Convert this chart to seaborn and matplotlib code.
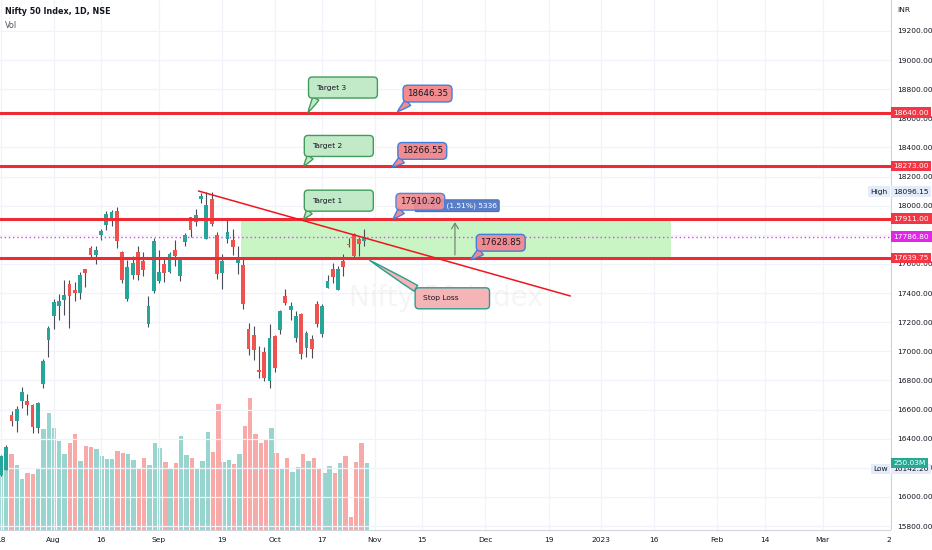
import matplotlib
matplotlib.use("Agg")
import matplotlib.pyplot as plt
import matplotlib.transforms as mtransforms
from matplotlib import font_manager
from matplotlib.patches import Rectangle
from matplotlib.ticker import FormatStrFormatter
import numpy as np
import pandas as pd
import seaborn as sns

# Nifty 50 daily candles, 18 Jul - 28 Oct 2022
opens = [16151, 16187, 16562, 16523, 16661, 16662, 16632, 16475, 16774, 17079,
         17243, 17310, 17349, 17463, 17423, 17401, 17566, 17711, 17659, 17797,
         17868, 17898, 17966, 17682, 17357, 17525, 17679, 17619, 17188, 17414,
         17485, 17598, 17546, 17695, 17519, 17748, 17923, 17890, 18045, 17771,
         18046, 17796, 17540, 17770, 17766, 17609, 17593, 17156, 17110, 16870,
         16993, 16799, 17102, 17147, 17379, 17287, 17094, 17257, 17025, 17087,
         17322, 17122, 17438, 17568, 17423, 17622, 17736, 17808, 17771, 17756]
highs = [16287, 16359, 16588, 16626, 16753, 16706, 16636, 16653, 16948, 17172,
         17356, 17391, 17490, 17491, 17474, 17548, 17566, 17720, 17724, 17839,
         17965, 17969, 17992, 17690, 17625, 17655, 17726, 17685, 17380, 17778,
         17695, 17643, 17683, 17764, 17650, 17810, 17925, 17980, 18089, 18091,
         18096.15, 17820, 17667, 17919, 17838, 17722, 17642, 17196, 17176, 17037,
         17027, 17188, 17114, 17287, 17428, 17337, 17280, 17261, 17142, 17112,
         17348, 17328, 17527, 17607, 17584, 17670, 17777, 17811, 17783, 17838]
lows = [16142.2, 16187, 16490, 16448, 16611, 16564, 16439, 16438, 16746, 16960,
        17154, 17215, 17250, 17161, 17348, 17359, 17442, 17631, 17597, 17765,
        17835, 17861, 17710, 17467, 17345, 17499, 17488, 17519, 17166, 17401,
        17468, 17476, 17540, 17587, 17484, 17726, 17786, 17864, 18022, 17771,
        17861, 17497, 17429, 17744, 17663, 17532, 17291, 16978, 16942, 16820,
        16794, 16747, 16855, 17117, 17315, 17216, 17064, 16950, 16960, 16956,
        17165, 17098, 17434, 17472, 17421, 17520, 17717, 17637, 17654, 17723]
closes = [16278, 16340, 16521, 16605, 16719, 16631, 16483, 16642, 16930, 17158,
          17340, 17345, 17388, 17382, 17397, 17525, 17535, 17659, 17698, 17825,
          17944, 17956, 17758, 17491, 17577, 17605, 17522, 17559, 17313, 17759,
          17542, 17539, 17665, 17655, 17624, 17798, 17833, 17936, 18070, 18003,
          17877, 17531, 17622, 17816, 17718, 17630, 17327, 17016, 17007, 16858,
          16818, 17094, 16887, 17274, 17331, 17314, 17241, 16984, 17124, 17014,
          17185, 17311, 17486, 17512, 17563, 17576, 17731, 17656, 17736, 17786.8]
volume_m = [272, 250, 284, 243, 190, 213, 209, 231, 377, 436,
            380, 332, 283, 325, 358, 257, 313, 310, 302, 276,
            265, 265, 295, 287, 283, 261, 228, 269, 243, 325,
            306, 254, 228, 250, 351, 280, 269, 231, 257, 366,
            291, 470, 254, 261, 246, 283, 388, 492, 358, 325,
            339, 380, 287, 231, 269, 216, 235, 283, 257, 269,
            228, 213, 239, 213, 250, 276, 48, 254, 325, 250.03]

holidays = ["2022-08-09", "2022-08-15", "2022-08-31", "2022-10-05", "2022-10-26", "2022-11-08"]
tick_dates = ["2022-07-18", "2022-08-01", "2022-08-16", "2022-09-01", "2022-09-19",
              "2022-10-03", "2022-10-17", "2022-11-01", "2022-11-15", "2022-12-01",
              "2022-12-19", "2023-01-02", "2023-01-16", "2023-02-01", "2023-02-14",
              "2023-03-01", "2023-03-20"]
tick_labels = ["18", "Aug", "16", "Sep", "19", "Oct", "17", "Nov", "15", "Dec",
               "19", "2023", "16", "Feb", "14", "Mar", "20"]

levels = [18640.00, 18273.00, 17911.00, 17639.75]
last_price = 17786.80
day_high = 18096.15
day_low = 16142.20

# drawings (bar index, price)
trend_x = [37.5, 108.1]
trend_y = [18101.0, 17380.0]
zone_x = [45.5, 127.2]
zone_y = [17639.75, 17911.00]

sns.set_style("white")
installed = {f.name for f in font_manager.fontManager.ttflist}
base = "Liberation Sans Narrow" if "Liberation Sans Narrow" in installed else "DejaVu Sans"
plt.rcParams["font.family"] = [base, "DejaVu Sans"]
fs = 6.8 if base != "DejaVu Sans" else 5.4
fs_c = fs * 1.15
TXT = "#131722"
GREEN, RED = "#26a69a", "#ef5350"

W, H = 932, 550
fig = plt.figure(figsize=(W / 100, H / 100), dpi=100)
fig.patch.set_facecolor("white")
rect = [0, 20 / H, 891 / W, 530 / H]
ax_vol = fig.add_axes(rect)
ax = fig.add_axes(rect)
ax.patch.set_alpha(0)

cal = pd.bdate_range("2022-07-18", "2023-03-31")
cal = cal[~cal.isin(pd.to_datetime(holidays))]
tick_pos = [cal.get_loc(pd.Timestamp(d)) for d in tick_dates]

o, h, l, c = map(np.array, (opens, highs, lows, closes))
idx = np.arange(len(c))
up = c >= o

# volume
vol_df = pd.DataFrame({"bar": idx, "vol": volume_m, "dir": np.where(up, "up", "down")})
sns.barplot(data=vol_df, x="bar", y="vol", hue="dir",
            palette={"up": "#98d5ce", "down": "#f7aaa8"}, native_scale=True,
            dodge=False, width=0.82, saturation=1, errorbar=None, legend=False,
            linewidth=0, orient="x", ax=ax_vol)
ax_vol.set_ylim(0, volume_m[-1] * 530 / 67)
ax_vol.set_xlim(-0.19, 167.9)
ax_vol.set_axis_off()

# candles
ax.vlines(idx, l, h, color="#4a4d57", lw=0.8, zorder=3)
ax.bar(idx, np.maximum(np.abs(c - o), 6), bottom=np.minimum(o, c), width=0.72,
       color=np.where(up, GREEN, RED), lw=0, zorder=4)

ax.set_xlim(-0.19, 167.9)
ax.set_ylim(15772.6, 19412.9)
ax.set_xticks(tick_pos, tick_labels)
ax.set_yticks(np.arange(15800, 19201, 200))
ax.yaxis.set_major_formatter(FormatStrFormatter("%.2f"))
ax.yaxis.tick_right()
ax.grid(True, color="#f0f3fa", lw=0.9)
ax.set_axisbelow(True)
ax.tick_params(axis="both", length=0, labelsize=fs, colors=TXT)
ax.tick_params(axis="x", pad=5)
ax.tick_params(axis="y", pad=4.5)
for s in ["top", "left"]:
    ax.spines[s].set_visible(False)
for s in ["right", "bottom"]:
    ax.spines[s].set_color("#d1d4dc")
    ax.spines[s].set_linewidth(0.8)

# watermark
ax.text(84.5, 17366, "Nifty 50 Index", fontsize=20, color=TXT, alpha=0.04,
        ha="center", va="center", zorder=1)

# drawings
ax.add_patch(Rectangle((zone_x[0], zone_y[0]), zone_x[1] - zone_x[0], zone_y[1] - zone_y[0],
                       fc="#c9f5c4", ec="none", zorder=2))
for lv in levels:
    ax.axhline(lv, color="#ee2a35", lw=2.2, zorder=6)
ax.axhline(last_price, color="#e040fb", lw=1, ls=(0, (1, 2)), zorder=5)
ax.plot(trend_x, trend_y, color="#f0141e", lw=1.1, zorder=6)
ax.annotate("", xy=(86.2, 17905), xytext=(86.2, 17642),
            arrowprops=dict(arrowstyle="->,head_length=0.4,head_width=0.25",
                            color="#6d7a6d", lw=0.8), zorder=7)
ax.text(86.6, 18000, "268.80 (1.51%) 5336", ha="center", va="center", fontsize=fs,
        color="white", zorder=8,
        bbox=dict(boxstyle="round,pad=0.35,rounding_size=0.2", fc="#5a7fc8", ec="#4a70b8", lw=0.8))


def callout(text, xy, off, fc, ec, ha="center", relpos=(0.15, 0.0), pad=0.45, alpha=1.0, size=fs):
    ax.annotate(text, xy=xy, xytext=off, textcoords="offset pixels", ha=ha, va="center",
                fontsize=size, color=TXT, zorder=9,
                bbox=dict(boxstyle=f"round,pad={pad},rounding_size=0.5", fc=fc, ec=ec,
                          lw=1.0, alpha=alpha),
                arrowprops=dict(arrowstyle="wedge,tail_width=0.9,shrink_factor=0.6",
                                fc=fc, ec=ec, lw=1.0, relpos=relpos, shrinkA=0, shrinkB=0))


tgt_fc, tgt_ec = "#c2eac8", "#3f9c5a"
callout("Target 3          ", (58.3, 18640), (8, 25), tgt_fc, tgt_ec, ha="left", pad=1.0, relpos=(0.08, 0))
callout("Target 2          ", (57.5, 18273), (8, 20), tgt_fc, tgt_ec, ha="left", pad=1.0, relpos=(0.08, 0))
callout("Target 1          ", (57.5, 17911), (8, 18), tgt_fc, tgt_ec, ha="left", pad=1.0, relpos=(0.08, 0))

px_fc, px_ec = "#f18b8f", "#3f7fe0"
callout("18646.35", (75.3, 18646.35), (30, 18), px_fc, px_ec, size=fs_c)
callout("18266.55", (74.3, 18266.55), (30, 16), px_fc, px_ec, size=fs_c)
callout("17910.20", (74.5, 17910.20), (27, 17), px_fc, px_ec, alpha=0.9, size=fs_c)
callout("17628.85", (89.2, 17628.85), (30, 17), px_fc, px_ec, size=fs_c)
callout("Stop Loss          ", (70.0, 17625), (53, -38), "#f5b4b6", "#2a9d8f",
        ha="left", pad=1.0, relpos=(0.08, 1.0))

# price scale badges
bt = mtransforms.blended_transform_factory(ax.transAxes, ax.transData)
def badge(y, text, fc, tc="white", transform=bt):
    ax.text(1.003, y, text, transform=transform, ha="left", va="center", fontsize=fs,
            color=tc, zorder=10, clip_on=False,
            bbox=dict(boxstyle="square,pad=0.3", fc=fc, ec="none"))

for lv in levels:
    badge(lv, f"{lv:.2f}", "#f23645")
badge(last_price, f"{last_price:.2f}", "#e026e6")

ax.text(0.9966, day_high, "High", transform=bt, ha="right", va="center", fontsize=fs,
        color=TXT, zorder=10, bbox=dict(boxstyle="square,pad=0.3", fc="#e3ecf8", ec="none"))
badge(day_high, f"{day_high:.2f}", "#e3ecf8", tc=TXT)

low_t = mtransforms.offset_copy(bt, fig=fig, y=7, units="dots")
ax.text(0.9966, day_low, "Low", transform=low_t, ha="right", va="center", fontsize=fs,
        color=TXT, zorder=10, bbox=dict(boxstyle="square,pad=0.3", fc="#e3ecf8", ec="none"))
badge(day_low, f"{day_low:.2f}", "#e3ecf8", tc=TXT, transform=low_t)

vt = mtransforms.blended_transform_factory(ax.transAxes, ax_vol.transData)
badge(volume_m[-1], f"{volume_m[-1]:.2f}M", "#22ab94", transform=vt)

fig.text(897 / W, 1 - 10 / H, "INR", fontsize=fs, color=TXT, va="center")
fig.text(5 / W, 1 - 12 / H, "Nifty 50 Index, 1D, NSE", fontsize=fs + 0.4, color=TXT,
         va="center", weight="semibold")
fig.text(5 / W, 1 - 25 / H, "Vol", fontsize=fs + 0.4, color="#50535e", va="center")
fig.add_artist(Rectangle((891 / W, 0), 41 / W, 20 / H, transform=fig.transFigure,
                         fc="white", ec="none", zorder=5))

fig.savefig("out.png", dpi=100, facecolor="white")
